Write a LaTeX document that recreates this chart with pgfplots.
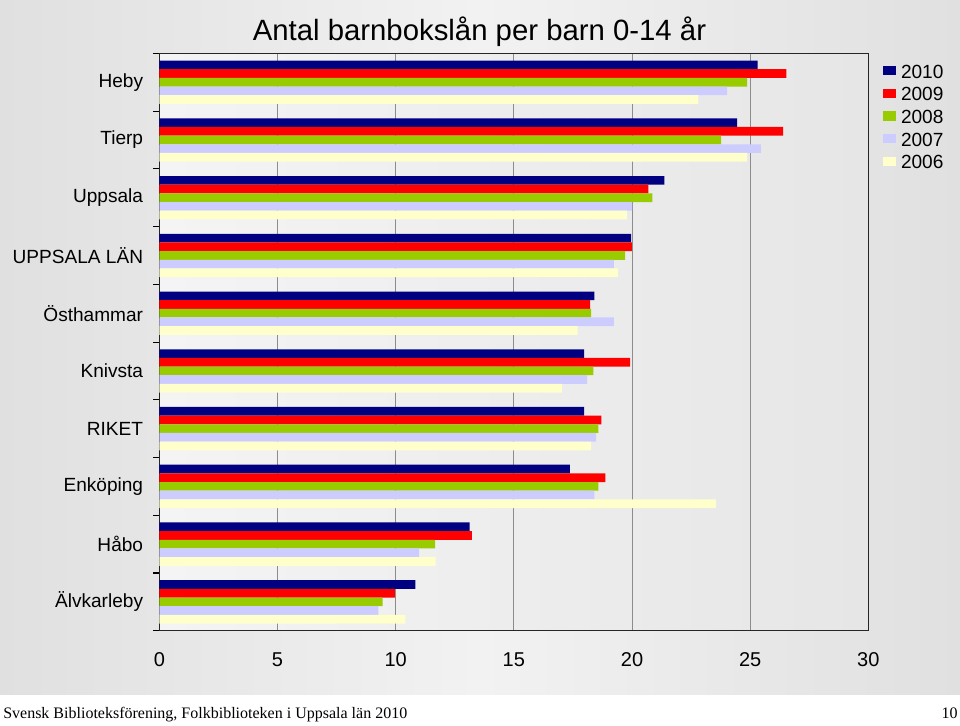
\documentclass[border=0pt]{standalone}
\usepackage{pgfplots}
\pgfplotsset{compat=1.18}
\usepackage{fontspec}
\setmainfont{Liberation Sans}
\newfontfamily\serifft{Liberation Serif}
\definecolor{c2010}{HTML}{000080}
\definecolor{c2009}{HTML}{FF0000}
\definecolor{c2008}{HTML}{99CC00}
\definecolor{c2007}{HTML}{CCCCFF}
\definecolor{c2006}{HTML}{FFFFCC}
\definecolor{bgEdge}{HTML}{E0E0E0}
\definecolor{bgMid}{HTML}{F2F2F2}
\definecolor{paL}{HTML}{F4F4F4}
\definecolor{paR}{HTML}{E6E6E6}
\definecolor{gridc}{HTML}{8C8C8C}
\begin{document}
\begin{tikzpicture}
\useasboundingbox (0,0) rectangle (720pt,543.75pt);
\shade[left color=bgEdge, right color=bgEdge, middle color=bgMid] (0,22.5pt) rectangle (720pt,543.75pt);
\fill[white] (0,0) rectangle (720pt,22.5pt);
\node[font=\fontsize{22}{25}\selectfont, inner sep=0pt] at (359.6pt,520pt) {Antal barnbokslån per barn 0-14 år};
\node[anchor=base west, inner sep=0pt, font=\serifft\fontsize{12}{14}\selectfont] at (2.25pt,5pt) {Svensk Biblioteksförening, Folkbiblioteken i Uppsala län 2010};
\node[anchor=base east, inner sep=0pt, font=\serifft\fontsize{12}{14}\selectfont] at (718.5pt,5pt) {10};
\begin{axis}[
  at={(119.5pt,70.7pt)}, anchor=south west,
  scale only axis, width=531.75pt, height=433.05pt,
  xmin=0, xmax=30, ymin=-0.5, ymax=9.5,
  xbar, bar width=0.15,
  axis background/.style={left color=paL, right color=paR},
  axis line style={black!85, line width=0.9pt},
  xtick={0,5,...,30},
  ytick={0,...,9},
  yticklabels={Älvkarleby,Håbo,Enköping,RIKET,Knivsta,Östhammar,UPPSALA LÄN,Uppsala,Tierp,Heby},
  minor ytick={-0.5,0.5,...,9.5},
  major tick length=0pt, minor tick length=4.5pt,
  tick align=outside, tick pos=left,
  minor tick style={black, line width=0.8pt},
  xmajorgrids, grid style={gridc, line width=0.75pt},
  /pgf/number format/assume math mode=true,
  yticklabel style={font=\fontsize{14.3}{16}\selectfont, anchor=east, inner sep=0pt, xshift=-12pt},
  xticklabel style={font=\fontsize{15}{17}\selectfont, anchor=north, inner sep=0pt, yshift=-16.5pt},
  legend style={draw=none, fill=none, at={(1,1)}, anchor=north west, xshift=11pt, yshift=-6.8pt,
    font=\fontsize{14.3}{16}\selectfont, row sep=4.5pt, inner sep=0pt,
    nodes={inner sep=1pt, text height=10.5pt, text depth=0pt},
    /tikz/every odd column/.append style={column sep=3pt}},
  legend cell align=left,
  legend image code/.code={\draw[#1,draw=none] (0pt,-3.3pt) rectangle (9.3pt,3.7pt);},
]
\addplot[fill=c2010, draw=none, bar shift=0.3] coordinates {
  (10.83,0) (13.13,1) (17.37,2) (17.97,3) (17.97,4) (18.41,5) (19.96,6) (21.37,7) (24.45,8) (25.32,9)};
\addplot[fill=c2009, draw=none, bar shift=0.15] coordinates {
  (9.97,0) (13.22,1) (18.87,2) (18.70,3) (19.92,4) (18.23,5) (19.99,6) (20.69,7) (26.39,8) (26.53,9)};
\addplot[fill=c2008, draw=none, bar shift=0] coordinates {
  (9.45,0) (11.67,1) (18.58,2) (18.58,3) (18.37,4) (18.27,5) (19.71,6) (20.86,7) (23.77,8) (24.87,9)};
\addplot[fill=c2007, draw=none, bar shift=-0.15] coordinates {
  (9.27,0) (10.99,1) (18.41,2) (18.48,3) (18.10,4) (19.23,5) (19.23,6) (20.00,7) (25.45,8) (24.02,9)};
\addplot[fill=c2006, draw=none, bar shift=-0.3] coordinates {
  (10.41,0) (11.69,1) (23.56,2) (18.27,3) (17.03,4) (17.70,5) (19.40,6) (19.78,7) (24.87,8) (22.81,9)};
\legend{2010,2009,2008,2007,2006}
\end{axis}
\end{tikzpicture}
\end{document}
